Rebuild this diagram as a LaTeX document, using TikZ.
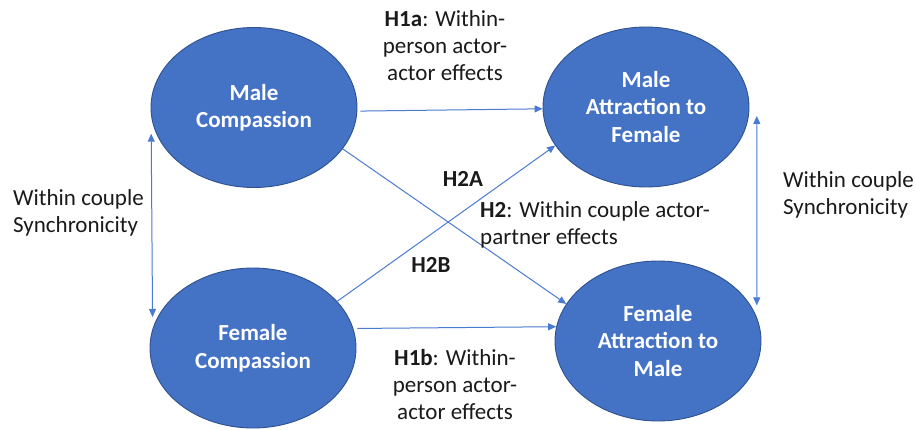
\documentclass[tikz,border=0pt]{standalone}
\usepackage{fontspec}
\setmainfont{Carlito}
\usetikzlibrary{shapes.geometric,arrows.meta}
\definecolor{ofblue}{HTML}{4472C4}
\definecolor{ofdark}{HTML}{2F528F}
\definecolor{arrblue}{HTML}{4A7BD0}
\definecolor{txt}{HTML}{1A1A1A}
\begin{document}
\begin{tikzpicture}[x=1pt,y=-1pt,
  bubble/.style={ellipse, fill=ofblue, draw=ofdark, line width=0.9pt,
    minimum width=206pt, minimum height=160pt, inner sep=0pt,
    text=white, align=center,
    font=\fontsize{23}{27.5}\selectfont\bfseries},
  lbl/.style={text=txt, inner sep=0pt, font=\fontsize{23}{27}\selectfont},
  conn/.style={draw=arrblue, line width=1pt, -{Triangle[length=8pt,width=7pt]}},
  conn2/.style={draw=arrblue, line width=1pt, {Triangle[length=8pt,width=7pt]}-{Triangle[length=8pt,width=7pt]}}
]
\useasboundingbox (0,0) rectangle (916,429);

\node[bubble] (mc) at (254,107.5) {Male\\Compassion};
\node[bubble] (fc) at (253,348) {Female\\Compassion};
\node[bubble] (ma) at (646,107) {Male\\Attraction to\\Female};
\node[bubble] (fa) at (658,341) {Female\\Attraction to\\Male};

% connectors
\draw[conn, shorten <=3pt] (mc.-2) -- (ma.181);
\draw[conn] (mc.-25.5) -- (fa.158);
\draw[conn] (fc.29) -- (ma.203);
\draw[conn, shorten <=4pt] (fc.11) -- (fa.172);
\draw[conn2] ([xshift=-5pt]mc.195) -- ([xshift=-5pt]fc.162);
\draw[conn2] ([xshift=8pt]ma.-5) -- ([xshift=6pt]fa.21);

% labels
\node[lbl, align=center] (h1a) at (445,45.5) {\textbf{H1a}: Within-\\person actor-\\actor effects};
\node[lbl, align=center] (h1b) at (455,384.5) {\textbf{H1b}: Within-\\person actor-\\actor effects};
\node[lbl] (h2a) at (463,178.5) {\textbf{H2A}};
\node[lbl] (h2b) at (431,265) {\textbf{H2B}};
\node[lbl, align=left, anchor=west] (h2) at (480,225) {\textbf{H2}: Within couple actor-\\partner effects};
\node[lbl, align=left, anchor=west] (syl) at (13,213) {Within couple\\Synchronicity};
\node[lbl, align=left, anchor=west] (syr) at (783,195) {Within couple\\Synchronicity};
\end{tikzpicture}
\end{document}
